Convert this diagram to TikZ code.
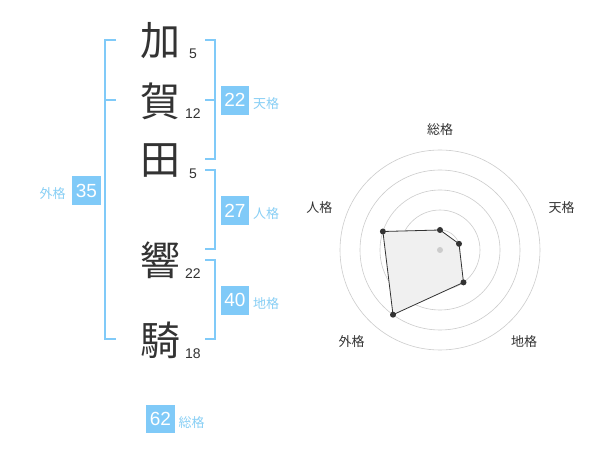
\documentclass[tikz,border=0pt]{standalone}
\usepackage{fontspec}
\setmainfont{Liberation Sans}
\newfontfamily\cjk{Noto Sans CJK JP}
\definecolor{kblue}{HTML}{80CAF8}
\definecolor{klabel}{HTML}{88CFF5}
\definecolor{ink}{HTML}{333333}
\begin{document}
\begin{tikzpicture}[x=1pt,y=-1pt,
  kanji/.style={font=\cjk\fontsize{40}{40}\selectfont, text=ink, inner sep=0pt},
  strokes/.style={font=\fontsize{14}{14}\selectfont, text=ink, anchor=base, inner sep=0pt},
  valbox/.style={fill=kblue, text=white, minimum size=28.5pt, inner sep=0pt, font=\fontsize{19}{19}\selectfont},
  kaku/.style={font=\cjk\fontsize{13}{13}\selectfont, text=klabel, inner sep=0pt},
  bracket/.style={draw=kblue, line width=2pt},
  ring/.style={draw=black!20, line width=0.6pt},
  radlabel/.style={font=\cjk\fontsize{13}{13}\selectfont, text=ink, inner sep=0pt},
  dot/.style={circle, fill=ink, inner sep=0pt, minimum size=6pt}]
\useasboundingbox (0,0) rectangle (600,470);
\fill[white] (0,0) rectangle (600,470);

% name characters
\node[kanji] (c1) at (160,41) {加};
\node[kanji] (c2) at (160,101) {賀};
\node[kanji] (c3) at (160,161) {田};
\node[kanji] (c4) at (160,260) {響};
\node[kanji] (c5) at (160,340) {騎};
\node[strokes] (n1) at (193,58.3) {5};
\node[strokes] (n2) at (193,119) {12};
\node[strokes] (n3) at (193,178.3) {5};
\node[strokes] (n4) at (193,278.3) {22};
\node[strokes] (n5) at (193,358.3) {18};

% brackets
\draw[bracket] (116,40) -- (105,40) -- (105,339.5) -- (116,339.5);
\draw[bracket] (105,100) -- (116,100);
\draw[bracket] (205,40) -- (214.5,40) -- (214.5,159.5) -- (205,159.5);
\draw[bracket] (205,100) -- (214.5,100);
\draw[bracket] (205,170) -- (214.5,170) -- (214.5,249.5) -- (205,249.5);
\draw[bracket] (205,260) -- (214.5,260) -- (214.5,339.5) -- (205,339.5);

% values
\node[valbox] (ten) at (235,100.3) {22};
\node[kaku] (tenl) at (266,104) {天格};
\node[valbox] (jin) at (235,210.5) {27};
\node[kaku] (jinl) at (266,214) {人格};
\node[valbox] (chi) at (235,300.3) {40};
\node[kaku] (chil) at (266,304) {地格};
\node[valbox] (gai) at (86.5,190.5) {35};
\node[kaku] (gail) at (52.7,194) {外格};
\node[valbox] (sou) at (160.5,419) {62};
\node[kaku] (soul) at (191.7,422.7) {総格};

% radar chart
\coordinate (c) at (440,250);
\foreach \r in {20,40,60,80,100} \draw[ring] (c) circle[radius=\r pt];
\coordinate (p1) at (440,230);
\coordinate (p2) at (459.0,243.8);
\coordinate (p3) at (463.5,282.4);
\coordinate (p4) at (393.0,314.7);
\coordinate (p5) at (382.9,231.5);
\filldraw[fill=black!6, draw=ink, line width=0.8pt] (p1) -- (p2) -- (p3) -- (p4) -- (p5) -- cycle;
\node[circle, fill=black!20, inner sep=0pt, minimum size=6pt] (cd) at (c) {};
\foreach \p in {p1,p2,p3,p4,p5} \node[dot] at (\p) {};
\node[radlabel] (r1) at (440,130) {総格};
\node[radlabel] (r2) at (561.7,208) {天格};
\node[radlabel] (r3) at (524,341.7) {地格};
\node[radlabel] (r4) at (351.7,341.7) {外格};
\node[radlabel] (r5) at (319.3,208) {人格};
\end{tikzpicture}
\end{document}
